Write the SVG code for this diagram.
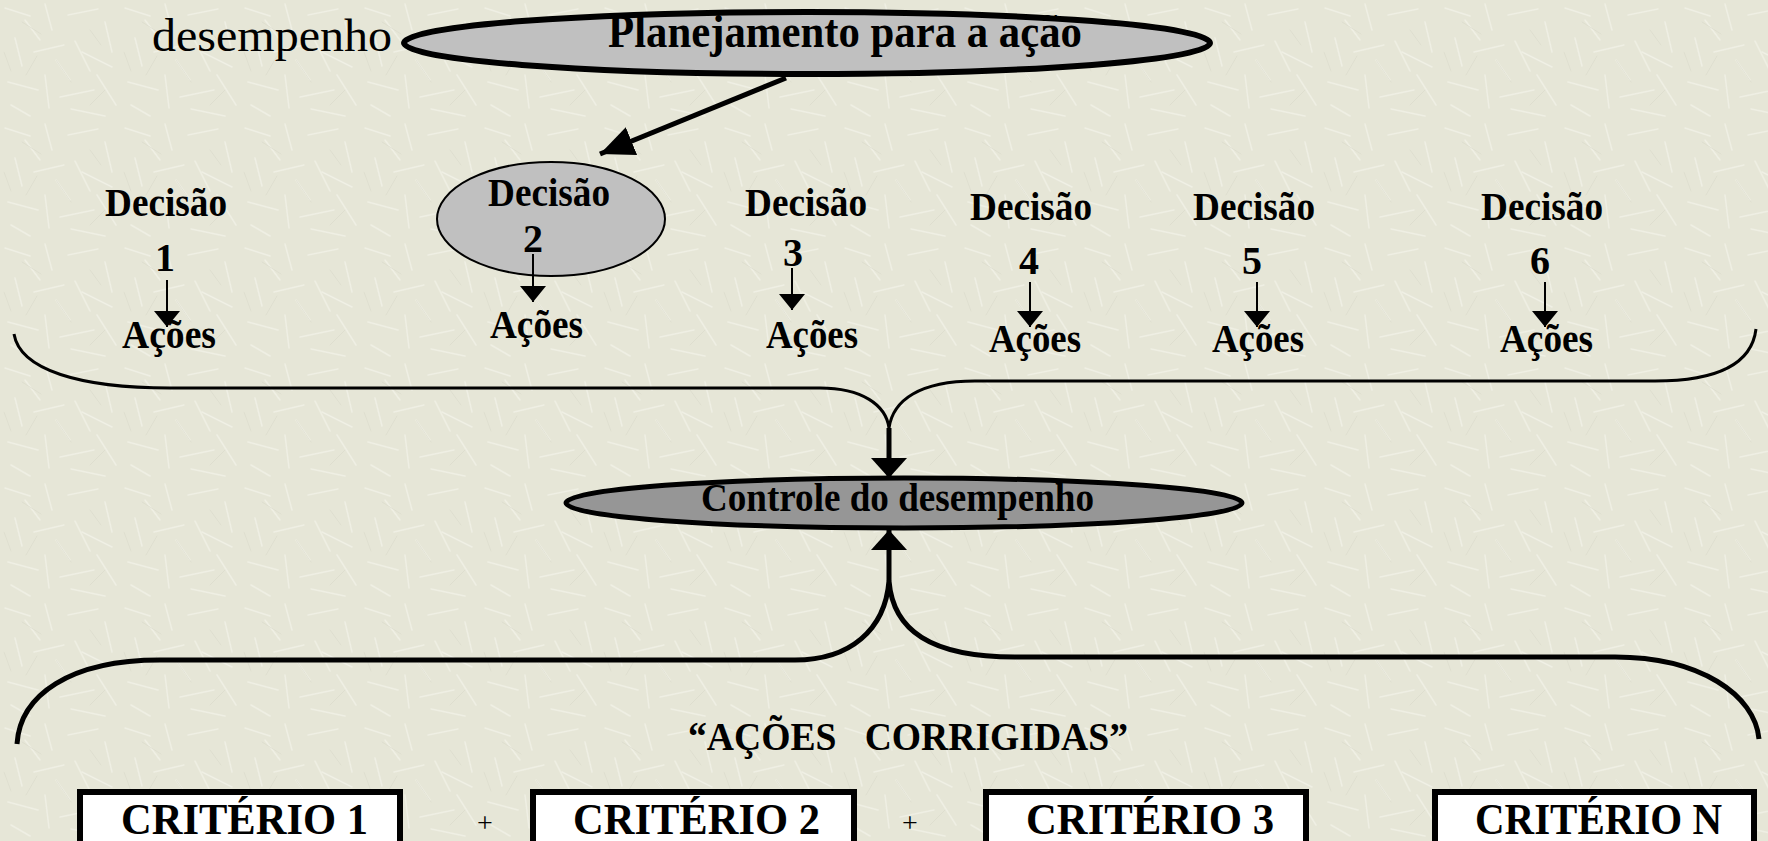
<svg xmlns="http://www.w3.org/2000/svg" width="1768" height="841" viewBox="0 0 1768 841">
<style>
.b{font-family:"Liberation Serif","Times New Roman",serif;font-weight:bold;fill:#000}
.r{font-family:"Liberation Serif","Times New Roman",serif;fill:#000}
.dec{font-size:40px}
.num{font-size:40px;text-anchor:middle}
.aco{font-size:40px}
.crit{font-size:45px}
.sa{stroke:#000;stroke-width:2;fill:none}
.box{fill:#fff;stroke:#000;stroke-width:6}
</style>
<defs>
<pattern id="tex" width="120" height="120" patternUnits="userSpaceOnUse">
<rect width="120" height="120" fill="#E6E6D7"/>
<g stroke="#F2F2E8" stroke-width="1.5" stroke-linecap="round" opacity="0.75">
<line x1="5" y1="8" x2="30" y2="16"/><line x1="45" y1="4" x2="52" y2="30"/><line x1="68" y1="15" x2="98" y2="9"/>
<line x1="105" y1="22" x2="112" y2="52"/><line x1="15" y1="38" x2="22" y2="66"/><line x1="34" y1="52" x2="64" y2="45"/>
<line x1="75" y1="41" x2="90" y2="71"/><line x1="8" y1="82" x2="38" y2="90"/><line x1="45" y1="75" x2="49" y2="108"/>
<line x1="60" y1="97" x2="94" y2="90"/><line x1="97" y1="75" x2="116" y2="105"/><line x1="11" y1="105" x2="30" y2="116"/>
<line x1="71" y1="109" x2="105" y2="116"/><line x1="82" y1="52" x2="112" y2="67"/><line x1="56" y1="60" x2="70" y2="80"/>
<line x1="25" y1="20" x2="40" y2="40"/>
</g>
<g stroke="#D9D9CA" stroke-width="1" stroke-linecap="round" opacity="0.6">
<line x1="22" y1="22" x2="41" y2="34"/><line x1="56" y1="60" x2="71" y2="82"/><line x1="90" y1="30" x2="101" y2="45"/>
<line x1="26" y1="75" x2="37" y2="56"/><line x1="105" y1="90" x2="90" y2="105"/><line x1="4" y1="52" x2="11" y2="71"/>
</g>
</pattern>
<marker id="sm" markerUnits="userSpaceOnUse" markerWidth="16" markerHeight="26" viewBox="0 0 16 26" refX="16" refY="13" orient="auto">
<path d="M0,0 L16,13 L0,26 Z" fill="#000"/>
</marker>
<marker id="dg" markerUnits="userSpaceOnUse" markerWidth="34" markerHeight="30" viewBox="0 0 34 30" refX="34" refY="15" orient="auto">
<path d="M0,0 L34,15 L0,30 Z" fill="#000"/>
</marker>
<marker id="ct" markerUnits="userSpaceOnUse" markerWidth="20" markerHeight="36" viewBox="0 0 20 36" refX="20" refY="18" orient="auto">
<path d="M0,0 L20,18 L0,36 Z" fill="#000"/>
</marker>
</defs>
<rect width="1768" height="841" fill="url(#tex)"/>

<g id="label-desempenho">
<text class="r" x="152" y="51" font-size="46" textLength="240" lengthAdjust="spacingAndGlyphs">desempenho</text>
</g>

<g id="planejamento">
<ellipse cx="807" cy="43" rx="403" ry="31" fill="#C0C0C0" stroke="#000" stroke-width="6"/>
<text class="b" x="608" y="47" font-size="46" textLength="474" lengthAdjust="spacingAndGlyphs">Planejamento para a ação</text>
</g>

<g id="decisao1">
<text class="b dec" x="105" y="216" textLength="122" lengthAdjust="spacingAndGlyphs">Decisão</text>
<text class="b num" x="165" y="271">1</text>
<text class="b aco" x="122" y="348" textLength="94" lengthAdjust="spacingAndGlyphs">Ações</text>
</g>

<g id="decisao2">
<ellipse cx="551" cy="219" rx="114" ry="57" fill="#C0C0C0" stroke="#000" stroke-width="2"/>
<text class="b dec" x="488" y="206" textLength="122" lengthAdjust="spacingAndGlyphs">Decisão</text>
<text class="b num" x="533" y="252">2</text>
<text class="b aco" x="490" y="338" textLength="93" lengthAdjust="spacingAndGlyphs">Ações</text>
</g>

<g id="decisao3">
<text class="b dec" x="745" y="216" textLength="122" lengthAdjust="spacingAndGlyphs">Decisão</text>
<text class="b num" x="793" y="266">3</text>
<text class="b aco" x="766" y="348" textLength="92" lengthAdjust="spacingAndGlyphs">Ações</text>
</g>

<g id="decisao4">
<text class="b dec" x="970" y="220" textLength="122" lengthAdjust="spacingAndGlyphs">Decisão</text>
<text class="b num" x="1029" y="274">4</text>
<text class="b aco" x="989" y="352" textLength="92" lengthAdjust="spacingAndGlyphs">Ações</text>
</g>

<g id="decisao5">
<text class="b dec" x="1193" y="220" textLength="122" lengthAdjust="spacingAndGlyphs">Decisão</text>
<text class="b num" x="1252" y="274">5</text>
<text class="b aco" x="1212" y="352" textLength="92" lengthAdjust="spacingAndGlyphs">Ações</text>
</g>

<g id="decisao6">
<text class="b dec" x="1481" y="220" textLength="122" lengthAdjust="spacingAndGlyphs">Decisão</text>
<text class="b num" x="1540" y="274">6</text>
<text class="b aco" x="1500" y="352" textLength="93" lengthAdjust="spacingAndGlyphs">Ações</text>
</g>

<g id="controle">
<ellipse cx="904" cy="503" rx="338" ry="25" fill="#969696" stroke="#000" stroke-width="5"/>
<text class="b" x="701" y="511" font-size="40" textLength="393" lengthAdjust="spacingAndGlyphs">Controle do desempenho</text>
</g>

<g id="acoes-corrigidas">
<text class="b" x="688" y="750" font-size="41" textLength="440" lengthAdjust="spacingAndGlyphs" style="white-space:pre">“AÇÕES   CORRIGIDAS”</text>
</g>

<g id="criterio1">
<rect class="box" x="80" y="792" width="320" height="80"/>
<text class="b crit" x="121" y="834" textLength="247" lengthAdjust="spacingAndGlyphs">CRITÉRIO 1</text>
</g>
<g id="criterio2">
<rect class="box" x="533" y="792" width="321" height="80"/>
<text class="b crit" x="573" y="834" textLength="247" lengthAdjust="spacingAndGlyphs">CRITÉRIO 2</text>
</g>
<g id="criterio3">
<rect class="box" x="986" y="792" width="320" height="80"/>
<text class="b crit" x="1026" y="834" textLength="248" lengthAdjust="spacingAndGlyphs">CRITÉRIO 3</text>
</g>
<g id="criterion">
<rect class="box" x="1435" y="792" width="319" height="80"/>
<text class="b crit" x="1475" y="834" textLength="247" lengthAdjust="spacingAndGlyphs">CRITÉRIO N</text>
</g>
<g id="plus">
<text class="r" x="485" y="832" font-size="28" text-anchor="middle">+</text>
<text class="r" x="910" y="832" font-size="28" text-anchor="middle">+</text>
</g>

<g id="connectors">
<line x1="786" y1="78" x2="600" y2="154" stroke="#000" stroke-width="5" marker-end="url(#dg)"/>
<line class="sa" x1="167" y1="280" x2="167" y2="327" marker-end="url(#sm)"/>
<line class="sa" x1="533" y1="254" x2="533" y2="302" marker-end="url(#sm)"/>
<line class="sa" x1="792" y1="268" x2="792" y2="310" marker-end="url(#sm)"/>
<line class="sa" x1="1030" y1="282" x2="1030" y2="327" marker-end="url(#sm)"/>
<line class="sa" x1="1257" y1="282" x2="1257" y2="327" marker-end="url(#sm)"/>
<line class="sa" x1="1545" y1="282" x2="1545" y2="327" marker-end="url(#sm)"/>
<path d="M14,334 C20,370 80,388 170,388 L820,388 C862,388 886,405 889,428 C893,400 920,381 975,381 L1655,381 C1720,381 1752,362 1756,329" fill="none" stroke="#000" stroke-width="3"/>
<line x1="889" y1="428" x2="889" y2="478" stroke="#000" stroke-width="5" marker-end="url(#ct)"/>
<path d="M17,744 C20,695 70,660 160,660 L795,660 C850,660 885,630 889,581 C893,630 930,657 1015,657 L1615,657 C1700,657 1755,695 1759,739" fill="none" stroke="#000" stroke-width="5"/>
<line x1="889" y1="581" x2="889" y2="530" stroke="#000" stroke-width="5" marker-end="url(#ct)"/>
</g>
</svg>
